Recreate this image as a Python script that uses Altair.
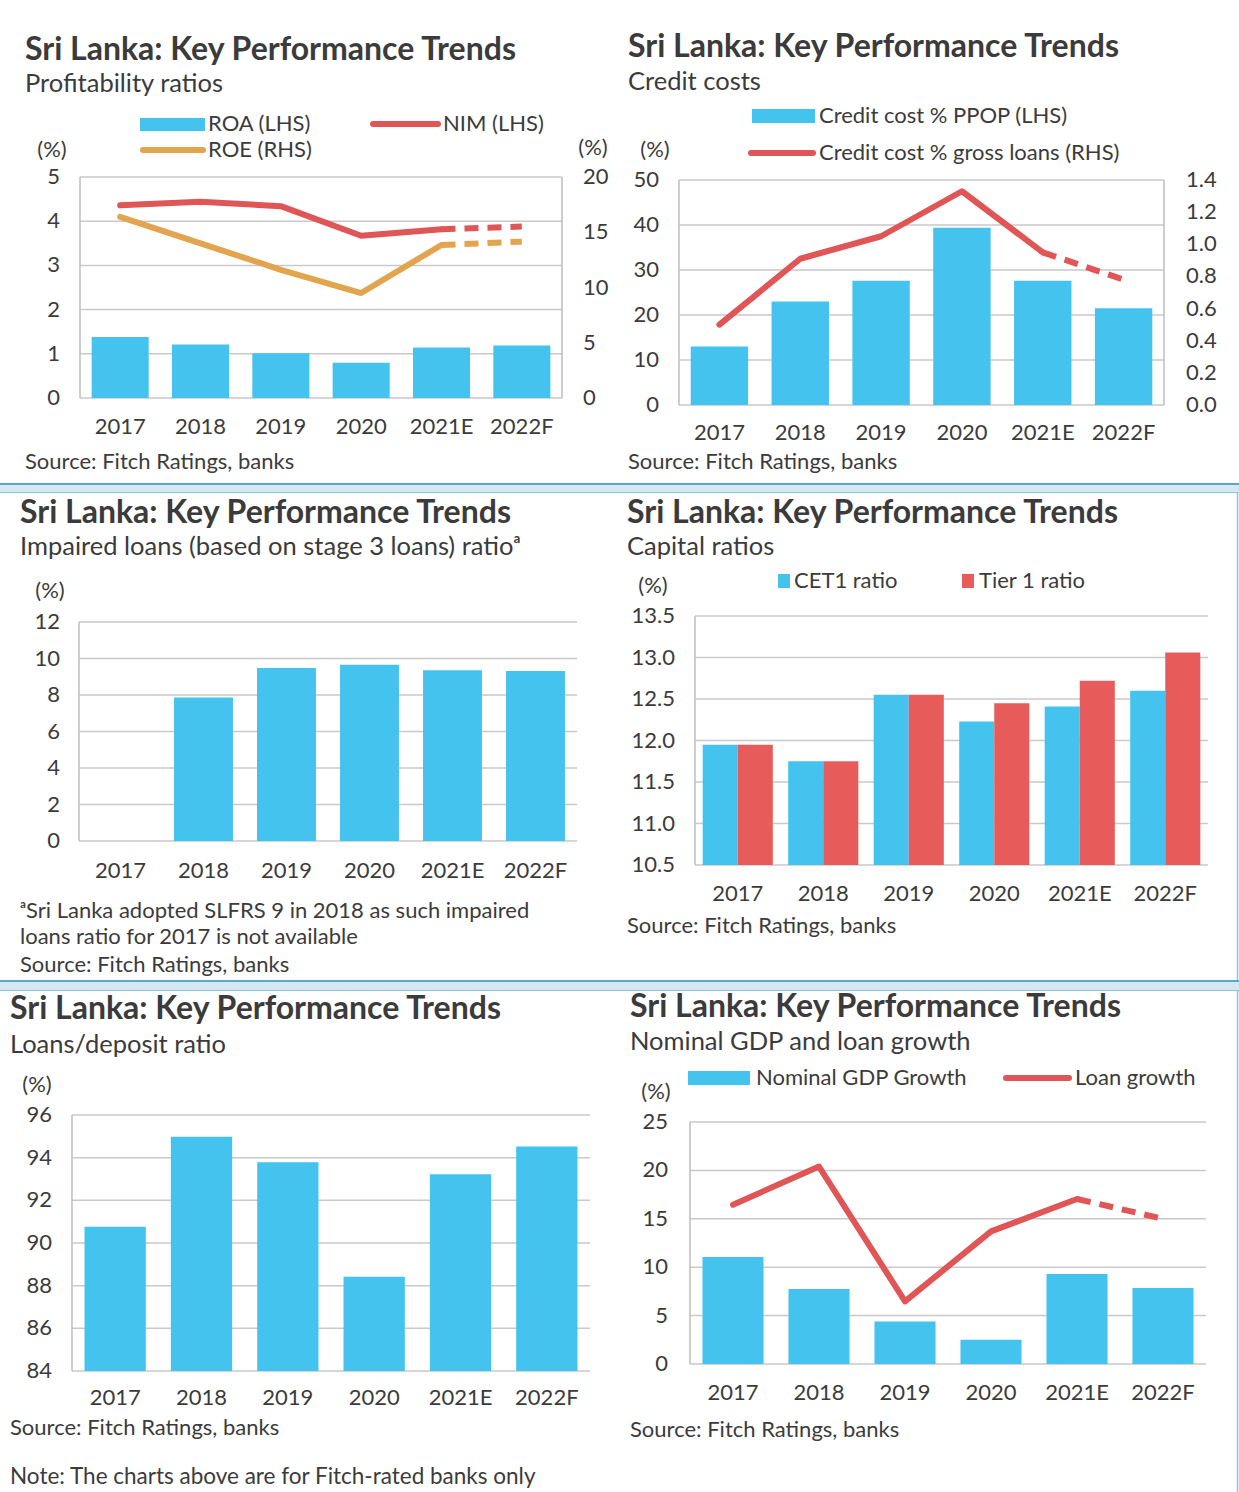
import altair as alt
import pandas as pd

# ---------------- data ----------------
years = ["2017", "2018", "2019", "2020", "2021E", "2022F"]

roa = [1.38, 1.21, 1.01, 0.80, 1.14, 1.19]
nim = [4.36, 4.44, 4.34, 3.67, 3.82, 3.88]
roe = [16.4, 14.0, 11.6, 9.5, 13.85, 14.15]

credit_ppop = [13.0, 23.0, 27.6, 39.4, 27.6, 21.5]
credit_loans = [0.50, 0.91, 1.05, 1.33, 0.95, 0.78]

impaired = [None, 7.86, 9.48, 9.66, 9.35, 9.32]

cet1 = [11.95, 11.75, 12.55, 12.23, 12.41, 12.60]
tier1 = [11.95, 11.75, 12.55, 12.45, 12.72, 13.06]

ldr = [90.76, 94.98, 93.78, 88.42, 93.22, 94.52]

gdp = [11.05, 7.75, 4.40, 2.50, 9.30, 7.85]
loan = [16.46, 20.40, 6.47, 13.70, 17.05, 15.00]

ticks1_l = [0, 1, 2, 3, 4, 5]
ticks1_r = [0, 5, 10, 15, 20]
ticks2_l = [0, 10, 20, 30, 40, 50]
ticks2_r = [0.0, 0.2, 0.4, 0.6, 0.8, 1.0, 1.2, 1.4]
ticks3 = [0, 2, 4, 6, 8, 10, 12]
ticks4 = [10.5, 11.0, 11.5, 12.0, 12.5, 13.0, 13.5]
ticks5 = [84, 86, 88, 90, 92, 94, 96]
ticks6 = [0, 5, 10, 15, 20, 25]

# ---------------- style ----------------
FONT = "Lato"
TXT = "#3b3b3b"
BLUE = "#45C3EF"
RED = "#E05555"
RED_BAR = "#E85B5B"
ORANGE = "#E2A44E"
GRID = "#C9C9C9"
FRAME = "#BEBEBE"
SEP_DARK = "#5AA6CF"
SEP_LIGHT = "#D5E8F2"
SEP_LINE = "#8DC3DF"

FS = 22        # body text
FS_TICK = 22   # tick labels
FS_TITLE = 32
FS_SUB = 25.5

one = pd.DataFrame({"k": [0]})
layers = []


def T(s, x, y, size=FS, weight="normal", align="left", color=TXT):
    layers.append(
        alt.Chart(pd.DataFrame({"t": [s]}))
        .mark_text(font=FONT, fontSize=size, fontWeight=weight, align=align,
                   baseline="middle", color=color)
        .encode(x=alt.value(x), y=alt.value(y), text="t:N")
    )


def RULE(x1, x2, y1, y2, color, width, dash=None, cap="butt"):
    kw = dict(color=color, strokeWidth=width, strokeCap=cap)
    if dash:
        kw["strokeDash"] = dash
    layers.append(
        alt.Chart(one).mark_rule(**kw)
        .encode(x=alt.value(x1), x2=alt.value(x2), y=alt.value(y1), y2=alt.value(y2))
    )


def RECT(x1, x2, y1, y2, color):
    layers.append(
        alt.Chart(one).mark_rect(color=color)
        .encode(x=alt.value(x1), x2=alt.value(x2), y=alt.value(y1), y2=alt.value(y2))
    )


def xs(x0, x1, pi=0.29):
    return alt.Scale(type="band", domain=years, range=[x0, x1],
                     paddingInner=pi, paddingOuter=pi / 2)


def ys(lo, hi, yb, yt):
    return alt.Scale(type="linear", domain=[lo, hi], range=[yb, yt], nice=False, zero=False)


def grid(ticks, ysc, x0, x1):
    layers.append(
        alt.Chart(pd.DataFrame({"v": ticks})).mark_rule(color=GRID, strokeWidth=1.5)
        .encode(y=alt.Y("v:Q", scale=ysc, axis=None), x=alt.value(x0), x2=alt.value(x1))
    )


def ylabels(ticks, ysc, lx, align="right", fmt="d", size=FS_TICK):
    layers.append(
        alt.Chart(pd.DataFrame({"v": ticks}))
        .mark_text(font=FONT, fontSize=size, align=align, baseline="middle", color=TXT)
        .encode(y=alt.Y("v:Q", scale=ysc, axis=None), x=alt.value(lx),
                text=alt.Text("v:Q", format=fmt))
    )


def xlabels(xsc, ly, size=FS_TICK):
    layers.append(
        alt.Chart(pd.DataFrame({"year": years}))
        .mark_text(font=FONT, fontSize=size, align="center", baseline="middle", color=TXT)
        .encode(x=alt.X("year:N", scale=xsc, axis=None, bandPosition=0.5),
                y=alt.value(ly), text="year:N")
    )


def bars(vals, xsc, ysc, base, color=BLUE):
    df = pd.DataFrame({"year": years, "v": vals}).dropna()
    layers.append(
        alt.Chart(df).mark_bar(color=color)
        .encode(x=alt.X("year:N", scale=xsc, axis=None),
                y=alt.Y("v:Q", scale=ysc, axis=None), y2=alt.datum(base))
    )


def line(vals, xsc, ysc, color, width=6, split=4):
    df = pd.DataFrame({"year": years, "v": vals})
    solid = df.iloc[: split + 1]
    dashed = df.iloc[split:]
    layers.append(
        alt.Chart(solid).mark_line(color=color, strokeWidth=width, strokeJoin="round",
                                   strokeCap="round")
        .encode(x=alt.X("year:N", scale=xsc, axis=None, bandPosition=0.5),
                y=alt.Y("v:Q", scale=ysc, axis=None))
    )
    layers.append(
        alt.Chart(dashed).mark_line(color=color, strokeWidth=width, strokeDash=[14, 9])
        .encode(x=alt.X("year:N", scale=xsc, axis=None, bandPosition=0.5),
                y=alt.Y("v:Q", scale=ysc, axis=None))
    )


TITLE = "Sri Lanka: Key Performance Trends"
SRC = "Source: Fitch Ratings, banks"

# ---------------- panel 1: profitability ----------------
x0, x1, yb, yt = 80, 562, 398, 177
X1 = xs(x0, x1)
Y1L = ys(0, 5, yb, yt)
Y1R = ys(0, 20, yb, yt)
grid(ticks1_l, Y1L, x0, x1)
RULE(x0, x0, yt, yb, FRAME, 1.5)
RULE(x1, x1, yt, yb, FRAME, 1.5)
bars(roa, X1, Y1L, 0)
line(roe, X1, Y1R, ORANGE)
line(nim, X1, Y1L, RED)
ylabels(ticks1_l, Y1L, 60)
ylabels(ticks1_r, Y1R, 583, align="left")
xlabels(X1, 427)
T(TITLE, 25, 50, size=FS_TITLE, weight="bold")
T("Profitability ratios", 25, 84, size=FS_SUB)
RECT(140, 205, 118, 131, BLUE)
T("ROA (LHS)", 208, 124)
RULE(373, 438, 124, 124, RED, 6, cap="round")
T("NIM (LHS)", 443, 124)
RULE(143, 203, 150, 150, ORANGE, 6, cap="round")
T("ROE (RHS)", 208, 150)
T("(%)", 52, 150, align="center")
T("(%)", 593, 148, align="center")
T(SRC, 25, 462)

# ---------------- panel 2: credit costs ----------------
x0, x1, yb, yt = 679, 1164, 405, 180
X2 = xs(x0, x1)
Y2L = ys(0, 50, yb, yt)
Y2R = ys(0, 1.4, yb, yt)
grid(ticks2_l, Y2L, x0, x1)
RULE(x0, x0, yt, yb, FRAME, 1.5)
RULE(x1, x1, yt, yb, FRAME, 1.5)
bars(credit_ppop, X2, Y2L, 0)
line(credit_loans, X2, Y2R, RED)
ylabels(ticks2_l, Y2L, 659)
ylabels(ticks2_r, Y2R, 1186, align="left", fmt=".1f")
xlabels(X2, 433)
T(TITLE, 628, 47, size=FS_TITLE, weight="bold")
T("Credit costs", 628, 82, size=FS_SUB)
RECT(752, 815, 109, 123, BLUE)
T("Credit cost % PPOP (LHS)", 819, 116)
RULE(751, 813, 153, 153, RED, 6, cap="round")
T("Credit cost % gross loans (RHS)", 819, 153)
T("(%)", 655, 150, align="center")
T(SRC, 628, 462)

# ---------------- separators ----------------
RULE(0, 1239, 484, 484, SEP_DARK, 2)
RECT(0, 1239, 485, 492, SEP_LIGHT)
RULE(0, 1239, 492.5, 492.5, SEP_LINE, 1)
RULE(1237.5, 1237.5, 492, 981, SEP_LINE, 1.5)
RULE(0, 1239, 981, 981, SEP_DARK, 2)
RECT(0, 1239, 982, 990, SEP_LIGHT)
RULE(0, 1239, 990.5, 990.5, SEP_LINE, 1)
RULE(1237.5, 1237.5, 990, 1492, SEP_LINE, 1.5)

# ---------------- panel 3: impaired loans ----------------
x0, x1, yb, yt = 79, 577, 841, 622
X3 = xs(x0, x1)
Y3 = ys(0, 12, yb, yt)
grid(ticks3, Y3, x0, x1)
RULE(x0, x0, yt, yb, FRAME, 1.5)
bars(impaired, X3, Y3, 0)
ylabels(ticks3, Y3, 60)
xlabels(X3, 871)
T(TITLE, 20, 513, size=FS_TITLE, weight="bold")
T("Impaired loans (based on stage 3 loans) ratio\u1d43", 20, 547, size=FS_SUB)
T("(%)", 50, 591, align="center")
T("\u1d43Sri Lanka adopted SLFRS 9 in 2018 as such impaired", 20, 911)
T("loans ratio for 2017 is not available", 20, 937)
T(SRC, 20, 965)

# ---------------- panel 4: capital ratios ----------------
x0, x1, yb, yt = 695, 1208, 865, 616
X4 = xs(x0, x1, pi=0.18)
Y4 = ys(10.5, 13.5, yb, yt)
grid(ticks4, Y4, x0, x1)
RULE(x0, x0, yt, yb, FRAME, 1.5)
df4 = pd.DataFrame({
    "year": years * 2,
    "series": ["CET1 ratio"] * 6 + ["Tier 1 ratio"] * 6,
    "v": cet1 + tier1,
})
layers.append(
    alt.Chart(df4).mark_bar()
    .encode(
        x=alt.X("year:N", scale=X4, axis=None),
        xOffset=alt.XOffset("series:N", scale=alt.Scale(domain=["CET1 ratio", "Tier 1 ratio"],
                                                        paddingInner=0, paddingOuter=0)),
        y=alt.Y("v:Q", scale=Y4, axis=None),
        y2=alt.datum(10.5),
        color=alt.Color("series:N", scale=alt.Scale(domain=["CET1 ratio", "Tier 1 ratio"],
                                                    range=[BLUE, RED_BAR]), legend=None),
    )
)
ylabels(ticks4, Y4, 675, fmt=".1f")
xlabels(X4, 894)
T(TITLE, 627, 513, size=FS_TITLE, weight="bold")
T("Capital ratios", 627, 547, size=FS_SUB)
RECT(778, 790, 574, 588, BLUE)
T("CET1 ratio", 794, 581)
RECT(962, 974, 574, 588, RED_BAR)
T("Tier 1 ratio", 979, 581)
T("(%)", 653, 586, align="center")
T(SRC, 627, 926)

# ---------------- panel 5: loans/deposit ----------------
x0, x1, yb, yt = 72, 590, 1371, 1115
X5 = xs(x0, x1)
Y5 = ys(84, 96, yb, yt)
grid(ticks5, Y5, x0, x1)
RULE(x0, x0, yt, yb, FRAME, 1.5)
bars(ldr, X5, Y5, 84)
ylabels(ticks5, Y5, 52)
xlabels(X5, 1398)
T(TITLE, 10, 1009, size=FS_TITLE, weight="bold")
T("Loans/deposit ratio", 10, 1045, size=FS_SUB)
T("(%)", 37, 1085, align="center")
T(SRC, 10, 1428)

# ---------------- panel 6: GDP and loan growth ----------------
x0, x1, yb, yt = 690, 1206, 1364, 1122
X6 = xs(x0, x1)
Y6 = ys(0, 25, yb, yt)
grid(ticks6, Y6, x0, x1)
RULE(x0, x0, yt, yb, FRAME, 1.5)
bars(gdp, X6, Y6, 0)
line(loan, X6, Y6, RED)
ylabels(ticks6, Y6, 668)
xlabels(X6, 1393)
T(TITLE, 630, 1007, size=FS_TITLE, weight="bold")
T("Nominal GDP and loan growth", 630, 1042, size=FS_SUB)
RECT(688, 750, 1071, 1085, BLUE)
T("Nominal GDP Growth", 756, 1078)
RULE(1006, 1069, 1078, 1078, RED, 6, cap="round")
T("Loan growth", 1075, 1078)
T("(%)", 656, 1092, align="center")
T(SRC, 630, 1430)

T("Note:  The charts above are for Fitch-rated banks only", 10, 1477, size=22.5)

chart = (
    alt.layer(*layers)
    .resolve_scale(x="independent", y="independent", color="independent")
    .properties(width=1239, height=1492, autosize="none", padding=0, background="white")
    .configure_view(stroke=None)
)

chart.save("out.html", embed_options={"renderer": "svg", "actions": False})
